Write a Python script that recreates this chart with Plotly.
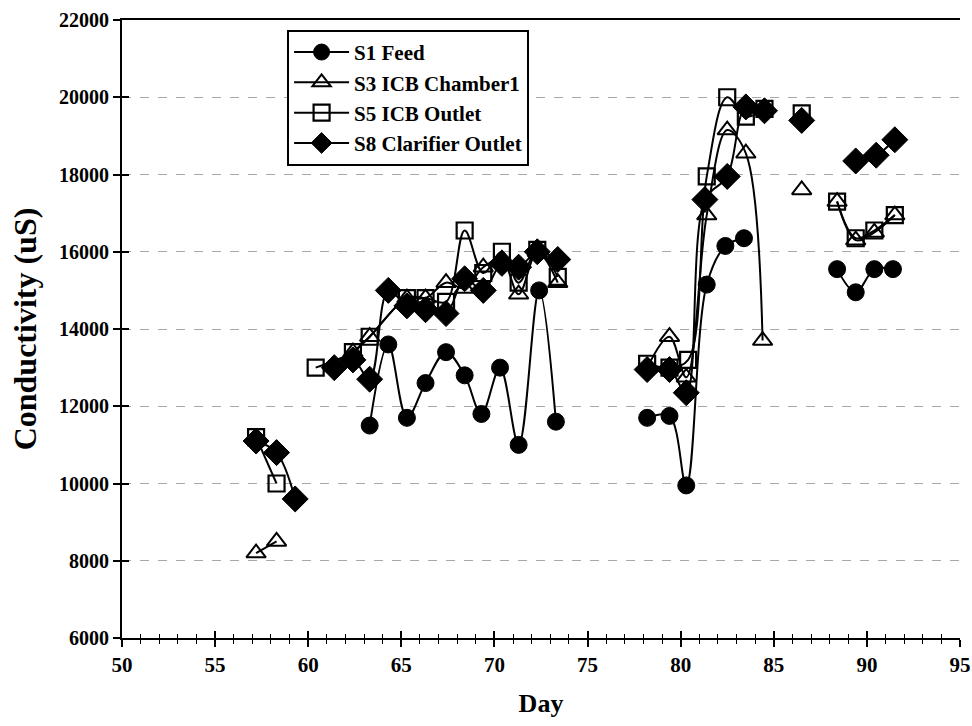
import plotly.graph_objects as go

# ---- data (None = break in the line) ----
s1_day = [63.3, 64.3, 65.3, 66.3, 67.4, 68.4, 69.3, 70.3, 71.3, 72.4, 73.3, None,
          78.2, 79.4, 80.3, 81.4, 82.4, 83.4, None,
          88.4, 89.4, 90.4, 91.4]
s1_val = [11500, 13600, 11700, 12600, 13400, 12800, 11800, 13000, 11000, 15000, 11600, None,
          11700, 11750, 9950, 15150, 16150, 16350, None,
          15550, 14950, 15550, 15550]

s3_day = [57.2, 58.3, None,
          62.4, 63.3, 65.3, 66.3, 67.4, 68.4, 69.4, 70.4, 71.3, 72.3, 73.4, None,
          78.2, 79.4, 80.3, 81.4, 82.5, 83.5, 84.4, None,
          86.5, None,
          88.4, 89.4, 90.4, 91.5]
s3_val = [8200, 8500, None,
          13400, 13800, 14800, 14800, 15200, 15050, 15600, 15800, 14900, 16000, 15200, None,
          13000, 13800, 12750, 16950, 19150, 18550, 13700, None,
          17600, None,
          17300, 16300, 16500, 16950]

s5_day = [57.2, 58.3, None,
          60.4, 62.4, 63.3, 65.3, 66.3, 67.4, 68.4, 69.4, 70.4, 71.3, 72.3, 73.4, None,
          78.2, 79.4, 80.4, 81.4, 82.5, 83.5, 84.5, None,
          86.5, None,
          88.4, 89.4, 90.4, 91.5]
s5_val = [11200, 10000, None,
          13000, 13400, 13800, 14800, 14800, 14700, 16550, 15450, 16000, 15200, 16050, 15350, None,
          13100, 13000, 13200, 17950, 20000, 19500, 19700, None,
          19580, None,
          17300, 16350, 16550, 16950]

s8_day = [57.2, 58.3, 59.3, None,
          61.4, 62.4, 63.3, 64.3, 65.3, 66.3, 67.4, 68.4, 69.4, 70.4, 71.3, 72.3, 73.4, None,
          78.2, 79.4, 80.3, 81.3, 82.5, 83.5, 84.5, None,
          86.5, None,
          89.4, 90.5, 91.5]
s8_val = [11100, 10800, 9600, None,
          13000, 13200, 12700, 15000, 14600, 14500, 14400, 15300, 15000, 15700, 15600, 16000, 15800, None,
          12950, 12950, 12350, 17350, 17950, 19750, 19650, None,
          19400, None,
          18350, 18500, 18900]

series_names = ["S1 Feed", "S3 ICB Chamber1", "S5 ICB Outlet", "S8 Clarifier Outlet"]

x_range = [50, 95]
y_range = [6000, 22000]

FONT = "Liberation Serif"

fig = go.Figure()

styles = [
    dict(symbol="circle", size=17, color="black", line=dict(color="black", width=1)),
    dict(symbol="triangle-up-open", size=17, color="black", line=dict(color="black", width=2)),
    dict(symbol="square-open", size=16, color="black", line=dict(color="black", width=2.2)),
    dict(symbol="diamond", size=20, color="black", line=dict(color="black", width=1)),
]

for name, xs, ys, mk in zip(series_names,
                            [s1_day, s3_day, s5_day, s8_day],
                            [s1_val, s3_val, s5_val, s8_val],
                            styles):
    fig.add_trace(go.Scatter(
        x=xs, y=ys, name=name, mode="lines+markers",
        line=dict(color="black", width=2, shape="spline", smoothing=1),
        marker=mk, connectgaps=False,
    ))

# invisible trace on overlay axes (for crossing ticks)
fig.add_trace(go.Scatter(x=[None], y=[None], xaxis="x2", yaxis="y2",
                         showlegend=False, hoverinfo="skip"))

fig.update_layout(
    width=972, height=726,
    margin=dict(l=122, r=12, t=20, b=88, autoexpand=False),
    paper_bgcolor="white", plot_bgcolor="white",
    font=dict(family=FONT, color="black"),
    xaxis=dict(
        range=x_range, dtick=5, tick0=50, tickformat="d", automargin=False,
        showgrid=False, zeroline=False,
        showline=True, linecolor="black", linewidth=2, mirror=True,
        ticks="outside", ticklen=7, tickwidth=1.5, tickcolor="black",
        minor=dict(dtick=1, ticks="outside", ticklen=4, tickwidth=1, tickcolor="black"),
        tickfont=dict(family=FONT, size=21, color="black", weight="bold"),
        title=dict(text="Day", font=dict(family=FONT, size=26, color="black", weight="bold"),
                   standoff=18),
    ),
    yaxis=dict(
        range=y_range, dtick=2000, tick0=6000, tickformat="d", automargin=False,
        showgrid=True, gridcolor="#a8a8a8", griddash="dash", gridwidth=1,
        zeroline=False,
        showline=True, linecolor="black", linewidth=2,
        ticks="outside", ticklen=7, tickwidth=1.5, tickcolor="black",
        tickfont=dict(family=FONT, size=20, color="black", weight="bold"),
        title=dict(text="Conductivity (uS)", font=dict(family=FONT, size=32, color="black", weight="bold"),
                   standoff=13),
    ),
    xaxis2=dict(
        range=x_range, overlaying="x", anchor="y2", side="bottom", automargin=False,
        showgrid=False, zeroline=False, showticklabels=False, showline=False,
        dtick=5, tick0=50, ticks="inside", ticklen=7, tickwidth=1.5, tickcolor="black",
        minor=dict(dtick=1, ticks="inside", ticklen=4, tickwidth=1, tickcolor="black"),
    ),
    yaxis2=dict(
        range=y_range, overlaying="y", anchor="x2", side="left", automargin=False,
        showgrid=False, zeroline=False, showticklabels=False, showline=False,
        dtick=2000, tick0=6000, ticks="inside", ticklen=7, tickwidth=1.5, tickcolor="black",
    ),
    legend=dict(
        x=0.197, y=0.984, xanchor="left", yanchor="top",
        bgcolor="white", bordercolor="black", borderwidth=2,
        font=dict(family=FONT, size=21, color="black", weight="bold"),
        itemwidth=55, tracegroupgap=0,
    ),
    showlegend=True,
)

fig.write_html("out.html",
               config={"displayModeBar": False},
               post_script="document.body.style.margin='0';document.body.style.overflow='hidden';")
